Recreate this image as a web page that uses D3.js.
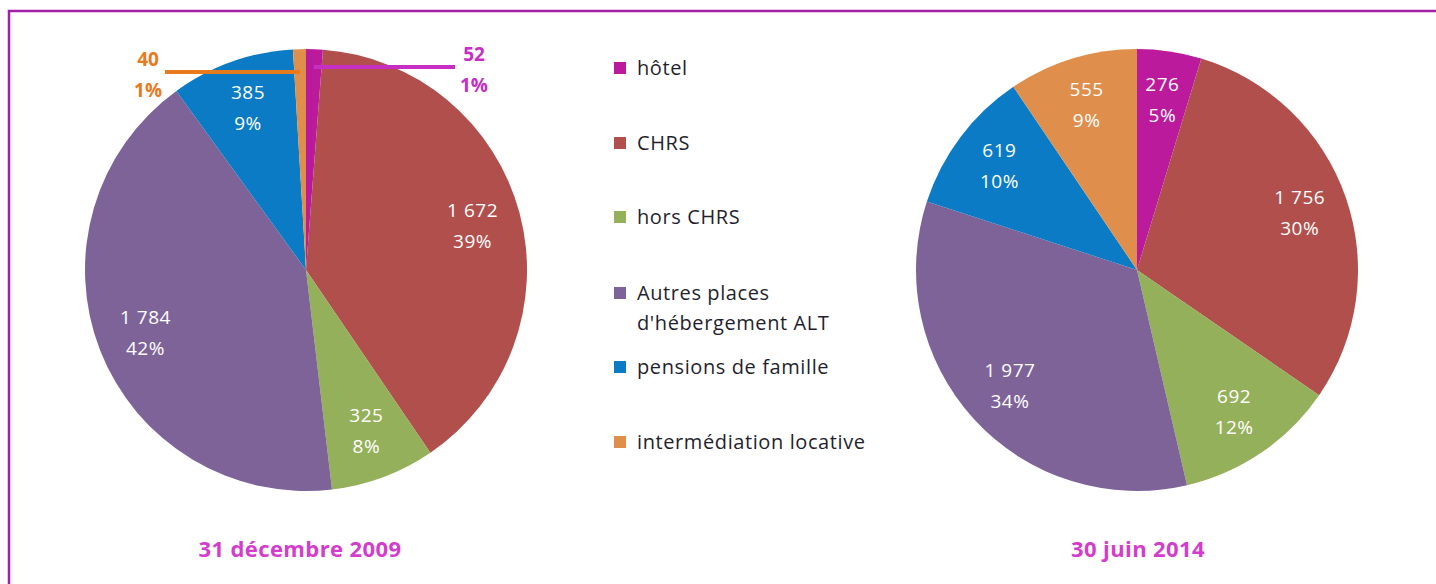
<!DOCTYPE html>
<html>
<head>
<meta charset="utf-8">
<script src="https://cdn.jsdelivr.net/npm/d3@7.9.0/dist/d3.min.js"></script>
<style>
  body { margin: 0; background: #fff; }
  svg { display: block; font-family: "Open Sans", Lato, sans-serif; }
</style>
</head>
<body>
<svg width="1436" height="584"></svg>
<script>
// categories, clockwise from 12 o'clock
const categories = ["hôtel", "CHRS", "hors CHRS", "Autres places d'hébergement ALT", "pensions de famille", "intermédiation locative"];
const legendLines = [["hôtel"], ["CHRS"], ["hors CHRS"], ["Autres places", "d'hébergement ALT"], ["pensions de famille"], ["intermédiation locative"]];
const colors = ["#bc1a9c", "#b14f4c", "#95b05a", "#7e6399", "#0a7bc4", "#df8f4b"];

const values2009 = [52, 1672, 325, 1784, 385, 40];
const pct2009 = ["1%", "39%", "8%", "42%", "9%", "1%"];
const values2014 = [276, 1756, 692, 1977, 619, 555];
const pct2014 = ["5%", "30%", "12%", "34%", "10%", "9%"];
const titles = ["31 décembre 2009", "30 juin 2014"];

const fmt = v => v >= 1000 ? Math.floor(v / 1000) + " " + String(v % 1000).padStart(3, "0") : String(v);

const svg = d3.select("svg");

// frame
svg.append("path")
    .attr("d", "M9,584 L9,11 L1436,11")
    .attr("fill", "none")
    .attr("stroke", "#a020a8")
    .attr("stroke-width", 2.5);

const R = 221;
const pie = d3.pie().sort(null).value(d => d);
const arc = d3.arc().innerRadius(0).outerRadius(R);
const labelArc = d3.arc().innerRadius(R * 0.78).outerRadius(R * 0.78);

function drawPie(cx, values, pcts, title, titleDx, outside) {
    const g = svg.append("g").attr("transform", `translate(${cx},270)`);
    const arcs = pie(values);
    g.selectAll("path.slice")
        .data(arcs)
        .join("path")
        .attr("class", "slice")
        .attr("d", arc)
        .attr("fill", (d, i) => colors[i]);

    arcs.forEach((d, i) => {
        if (outside[i]) return;
        const [x, y] = labelArc.centroid(d);
        const t = g.append("text")
            .attr("text-anchor", "middle")
            .attr("fill", "#fff")
            .attr("font-size", 19)
            .attr("letter-spacing", 0.5);
        t.append("tspan").attr("x", x).attr("y", y - 9).text(fmt(values[i]));
        t.append("tspan").attr("x", x).attr("y", y + 22).text(pcts[i]);
    });

    // small slices: leader line and outside label
    arcs.forEach((d, i) => {
        const o = outside[i];
        if (!o) return;
        const mid = (d.startAngle + d.endAngle) / 2;
        const px = Math.sin(mid) * (R - 14);
        const y = o.y;
        g.append("line")
            .attr("x1", px).attr("y1", y)
            .attr("x2", o.x).attr("y2", y)
            .attr("stroke", o.color).attr("stroke-width", 4);
        const t = g.append("text")
            .attr("text-anchor", "middle")
            .attr("fill", o.color)
            .attr("font-size", 19)
            .attr("font-weight", "bold");
        t.append("tspan").attr("x", o.tx).attr("y", y - 6).text(fmt(values[i]));
        t.append("tspan").attr("x", o.tx).attr("y", y + 25).text(pcts[i]);
    });

    svg.append("text")
        .attr("x", cx + titleDx)
        .attr("y", 557)
        .attr("text-anchor", "middle")
        .attr("fill", "#d43ccc")
        .attr("font-size", 22)
        .attr("font-weight", "bold")
        .attr("letter-spacing", 0.4)
        .text(title);
}

drawPie(306, values2009, pct2009, titles[0], -6, [
    { x: 149, y: -203, tx: 168, color: "#c62ec4" },
    null, null, null, null,
    { x: -141, y: -198, tx: -158, color: "#e87a1e" }
]);
drawPie(1137, values2014, pct2014, titles[1], 1, [null, null, null, null, null, null]);

// legend
const legendY = [68, 143, 217, 293, 367, 442];
const lg = svg.append("g");
categories.forEach((c, i) => {
    lg.append("rect")
        .attr("x", 614).attr("y", legendY[i] - 6)
        .attr("width", 12).attr("height", 12)
        .attr("fill", colors[i]);
    legendLines[i].forEach((line, j) => {
        lg.append("text")
            .attr("x", 637)
            .attr("y", legendY[i] + 7 + j * 30)
            .attr("fill", "#1f1f2e")
            .attr("font-size", 20)
            .attr("letter-spacing", 0.6)
            .text(line);
    });
});
</script>
</body>
</html>
